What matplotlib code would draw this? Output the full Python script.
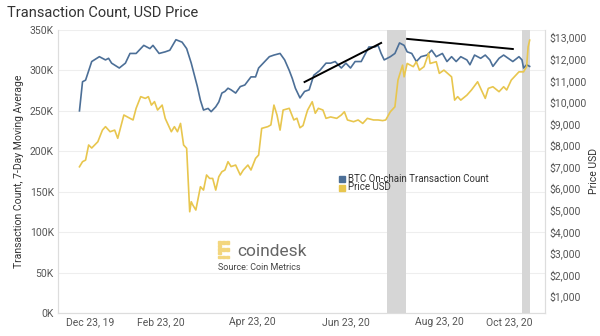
import matplotlib.pyplot as plt
import matplotlib.patches as mpatches
import pandas as pd

plt.rcParams['font.family'] = ['Roboto', 'DejaVu Sans']

# BTC on-chain transaction count, 7-day moving average (thousands)
tx_dates = ["2020-01-01", "2020-01-03", "2020-01-05", "2020-01-09", "2020-01-14", "2020-01-18",
            "2020-01-20", "2020-01-22", "2020-01-27", "2020-01-31", "2020-02-03", "2020-02-07",
            "2020-02-12", "2020-02-16", "2020-02-18", "2020-02-22", "2020-02-26", "2020-02-29",
            "2020-03-04", "2020-03-08", "2020-03-11", "2020-03-14", "2020-03-18", "2020-03-20",
            "2020-03-22", "2020-03-25", "2020-03-27", "2020-03-30", "2020-04-01", "2020-04-03",
            "2020-04-05", "2020-04-07", "2020-04-09", "2020-04-12", "2020-04-15", "2020-04-18",
            "2020-04-22", "2020-04-25", "2020-04-27", "2020-04-30", "2020-05-04", "2020-05-07",
            "2020-05-11", "2020-05-14", "2020-05-17", "2020-05-19", "2020-05-21", "2020-05-23",
            "2020-05-24", "2020-05-27", "2020-05-30", "2020-06-02", "2020-06-06", "2020-06-10",
            "2020-06-13", "2020-06-16", "2020-06-20", "2020-06-23", "2020-06-26", "2020-06-29",
            "2020-07-03", "2020-07-08", "2020-07-12", "2020-07-14", "2020-07-16", "2020-07-18",
            "2020-07-22", "2020-07-25", "2020-07-28", "2020-07-31", "2020-08-02", "2020-08-05",
            "2020-08-08", "2020-08-11", "2020-08-15", "2020-08-18", "2020-08-21", "2020-08-25",
            "2020-08-28", "2020-08-31", "2020-09-03", "2020-09-06", "2020-09-10", "2020-09-12",
            "2020-09-15", "2020-09-19", "2020-09-22", "2020-09-25", "2020-09-27", "2020-10-01",
            "2020-10-04", "2020-10-07", "2020-10-10", "2020-10-14", "2020-10-16", "2020-10-17",
            "2020-10-19", "2020-10-21"]
tx_count = [250, 286, 288, 311, 317, 313,
            315, 309, 303, 309, 321, 321,
            331, 327, 331, 321, 323, 325,
            338, 335, 327, 309, 280, 263,
            251, 253, 249, 255, 261, 272,
            274, 278, 276, 272, 280, 282,
            292, 292, 303, 309, 317, 319,
            321, 313, 300, 290, 278, 270,
            266, 274, 276, 294, 300, 309,
            309, 311, 303, 309, 303, 311,
            311, 329, 329, 331, 321, 313,
            317, 321, 334, 331, 323, 321,
            311, 317, 319, 325, 317, 321,
            311, 317, 311, 317, 313, 307,
            319, 315, 319, 313, 305, 315,
            319, 315, 311, 317, 313, 303,
            307, 305]

# BTC price in USD
px_dates = ["2020-01-01", "2020-01-03", "2020-01-05", "2020-01-07", "2020-01-09", "2020-01-13",
            "2020-01-16", "2020-01-18", "2020-01-21", "2020-01-24", "2020-01-26", "2020-01-28",
            "2020-01-30", "2020-02-03", "2020-02-05", "2020-02-07", "2020-02-10", "2020-02-13",
            "2020-02-15", "2020-02-17", "2020-02-19", "2020-02-21", "2020-02-24", "2020-02-26",
            "2020-03-01", "2020-03-03", "2020-03-05", "2020-03-07", "2020-03-09", "2020-03-11",
            "2020-03-12", "2020-03-13", "2020-03-14", "2020-03-15", "2020-03-17", "2020-03-20",
            "2020-03-22", "2020-03-24", "2020-03-26", "2020-03-28", "2020-03-30", "2020-04-01",
            "2020-04-03", "2020-04-05", "2020-04-07", "2020-04-09", "2020-04-12", "2020-04-15",
            "2020-04-17", "2020-04-20", "2020-04-22", "2020-04-25", "2020-04-27", "2020-04-29",
            "2020-05-03", "2020-05-05", "2020-05-07", "2020-05-09", "2020-05-11", "2020-05-13",
            "2020-05-17", "2020-05-20", "2020-05-22", "2020-05-24", "2020-05-26", "2020-05-28",
            "2020-05-29", "2020-06-01", "2020-06-03", "2020-06-05", "2020-06-08", "2020-06-10",
            "2020-06-13", "2020-06-17", "2020-06-20", "2020-06-22", "2020-06-24", "2020-06-28",
            "2020-07-01", "2020-07-04", "2020-07-07", "2020-07-11", "2020-07-14", "2020-07-17",
            "2020-07-19", "2020-07-22", "2020-07-25", "2020-07-27", "2020-07-30", "2020-07-31",
            "2020-08-02", "2020-08-06", "2020-08-08", "2020-08-10", "2020-08-13", "2020-08-16",
            "2020-08-17", "2020-08-21", "2020-08-23", "2020-08-26", "2020-08-31", "2020-09-02",
            "2020-09-04", "2020-09-06", "2020-09-10", "2020-09-13", "2020-09-17", "2020-09-19",
            "2020-09-22", "2020-09-24", "2020-09-27", "2020-10-01", "2020-10-04", "2020-10-06",
            "2020-10-09", "2020-10-14", "2020-10-17", "2020-10-19", "2020-10-20", "2020-10-21"]
price = [6990, 7225, 7300, 8000, 7860, 8150,
         8690, 8850, 8615, 8690, 8310, 8850,
         9390, 9235, 9160, 9700, 10240, 10160,
         10240, 9850, 10010, 9620, 9850, 9235,
         8615, 8850, 8615, 9000, 8000, 7845,
         6375, 4905, 5370, 5220, 4985, 6065,
         5910, 6610, 6450, 6450, 5910, 6530,
         6760, 6840, 7225, 7000, 7070, 6610,
         6840, 7070, 6840, 7380, 7535, 8770,
         8850, 8930, 9850, 9390, 8690, 9620,
         9700, 9160, 9240, 8800, 8900, 9390,
         9620, 10005, 9470, 9700, 9620, 9235,
         9300, 9235, 9390, 9540, 9160, 9080,
         9160, 9000, 9235, 9160, 9160, 9130,
         9160, 9540, 9770, 11010, 11700, 11160,
         11780, 11630, 11860, 11470, 11630, 12250,
         11780, 11860, 11320, 11470, 11160, 10080,
         10240, 10080, 10310, 10550, 10930, 10620,
         10160, 10625, 10700, 10470, 10700, 10550,
         11010, 11390, 11390, 11630, 12550, 12860]

# shaded periods and hand-drawn trend lines
shaded = [("2020-07-20", "2020-08-01"), ("2020-10-16", "2020-10-21")]
trend_up = (["2020-05-27", "2020-07-16"], [285.7, 334])
trend_down = (["2020-08-02", "2020-10-10"], [339, 326.5])

tick_dates = ["2019-12-23", "2020-02-23", "2020-04-23", "2020-06-23", "2020-08-23", "2020-10-23"]
tick_labels = ["Dec 23, 19", "Feb 23, 20", "Apr 23, 20", "Jun 23, 20", "Aug 23, 20", "Oct 23, 20"]

blue = "#4c6f97"
gold = "#e8c64e"
grey_txt = "#555555"

fig = plt.figure(figsize=(6, 3.36), dpi=100)
ax = fig.add_axes([0.0967, 0.0685, 0.8116, 0.8422])
ax2 = ax.twinx()

for a, b in shaded:
    ax.axvspan(pd.to_datetime(a), pd.to_datetime(b), color="#d6d6d6", lw=0, zorder=1)

ax.plot(pd.to_datetime(tx_dates), [v * 1000 for v in tx_count], color=blue, lw=1.2, zorder=3)
ax.plot(pd.to_datetime(trend_up[0]), [v * 1000 for v in trend_up[1]], color="black", lw=1.4, zorder=4)
ax.plot(pd.to_datetime(trend_down[0]), [v * 1000 for v in trend_down[1]], color="black", lw=1.4, zorder=4)
ax2.plot(pd.to_datetime(px_dates), price, color=gold, lw=1.2, zorder=2)

ax.set_xlim(pd.to_datetime("2019-12-18"), pd.to_datetime("2020-10-31"))
ax.set_ylim(0, 350000)
ax.set_yticks(range(0, 350001, 50000))
ax.set_yticklabels([f"{v // 1000}K" for v in range(0, 350001, 50000)])
ax2.set_ylim(213, 13330)
ax2.set_yticks(range(1000, 13001, 1000))
ax2.set_yticklabels([f"${v:,}" for v in range(1000, 13001, 1000)])

ax.set_xticks(pd.to_datetime(tick_dates))
ax.set_xticklabels(tick_labels)
xl = ax.get_xticklabels()
xl[0].set_horizontalalignment("left")
xl[-1].set_horizontalalignment("right")

ax.grid(axis="y", color="#eeeeee", lw=0.8, zorder=0)
ax.set_axisbelow(True)
for a in (ax, ax2):
    a.tick_params(length=0, labelsize=7.5, labelcolor=grey_txt, pad=3)
    a.spines["top"].set_visible(False)
    for s in ("left", "right", "bottom"):
        a.spines[s].set_color("#dddddd")
        a.spines[s].set_linewidth(0.8)

ax.set_ylabel("Transaction Count, 7-Day Moving Average", fontsize=7.5, color="#333333", labelpad=4)
ax2.set_ylabel("Price USD", fontsize=7.5, color="#333333", labelpad=2)

fig.text(0.012, 0.962, "Transaction Count, USD Price", fontsize=10.5, color="#333333", va="center")

# legend
fig.patches.append(mpatches.Rectangle((339 / 600, 1 - 181.5 / 336), 6 / 600, 6 / 336,
                                      transform=fig.transFigure, color=blue, figure=fig))
fig.patches.append(mpatches.Rectangle((339 / 600, 1 - 190.5 / 336), 6 / 600, 6 / 336,
                                      transform=fig.transFigure, color=gold, figure=fig))
fig.text(348 / 600, 1 - 178.5 / 336, "BTC On-chain Transaction Count", fontsize=7, color="#333333", va="center")
fig.text(348 / 600, 1 - 187.5 / 336, "Price USD", fontsize=7, color="#333333", va="center")

# coindesk mark
mark = [(0, 0), (1, 0), (2, 0), (0, 1), (0, 2), (1, 2), (0, 3), (0, 4), (1, 4), (2, 4), (2, 2)]
for cx, cy in mark:
    fig.patches.append(mpatches.Rectangle(((218 + cx * 4) / 600, 1 - (258 - cy * 3.6) / 336),
                                          2.6 / 600, 2.4 / 336, transform=fig.transFigure,
                                          color="#f3d67e", figure=fig))
fig.text(237 / 600, 1 - 251 / 336, "coindesk", fontsize=12.5, color="#666666", va="center")
fig.text(218 / 600, 1 - 267.5 / 336, "Source: Coin Metrics", fontsize=6.5, color="#444444", va="center")

fig.savefig("out.png", dpi=100)
